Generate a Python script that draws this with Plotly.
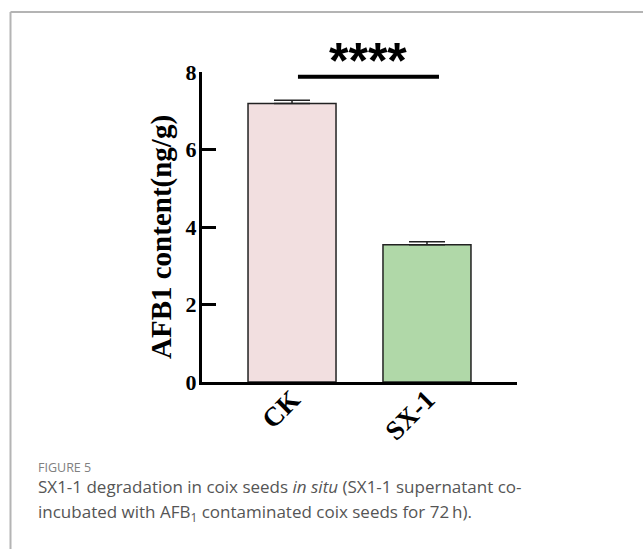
import plotly.graph_objects as go

categories = ["CK", "SX-1"]
values = [7.19, 3.54]
errors = [0.08, 0.08]
bar_colors = ["#f2dfe0", "#b0d8a8"]
y_ticks = [0, 2, 4, 6, 8]
sig_label = "****"
sig_level = 7.88
y_title = "AFB1 content(ng/g)"

W, H = 643, 549
L, R, T, B = 202, 126, 72, 167
PW, PH = W - L - R, H - T - B

def px(x):
    return (x - L) / PW

def py(y):
    return (H - B - y) / PH

fig = go.Figure()
fig.add_trace(go.Bar(
    x=categories, y=values, width=0.652,
    marker=dict(color=bar_colors, line=dict(color="#222222", width=1.5)),
    error_y=dict(type="data", symmetric=False, array=errors, arrayminus=[0, 0],
                 color="#222222", thickness=1.5, width=18),
    showlegend=False,
))

serif = "Liberation Serif, Times New Roman, serif"
fig.update_layout(
    width=W, height=H,
    margin=dict(l=L, r=R, t=T, b=B),
    paper_bgcolor="white", plot_bgcolor="white",
    xaxis=dict(type="category", range=[-0.667, 1.667], showline=True, linewidth=3,
               linecolor="black", ticks="", tickangle=-45, showgrid=False, zeroline=False,
               ticklabelstandoff=-12,
               tickfont=dict(family=serif, size=27, color="black", weight="bold")),
    yaxis=dict(range=[0, 8], tickvals=y_ticks, showline=True, linewidth=3, linecolor="black",
               ticks="inside", ticklen=14, tickwidth=3, tickcolor="black",
               showgrid=False, zeroline=False, ticklabelstandoff=-2,
               tickfont=dict(family=serif, size=22, color="black", weight="bold")),
    shapes=[
        dict(type="line", xref="x", yref="y", x0=0.044, x1=1.089, y0=sig_level, y1=sig_level,
             line=dict(color="black", width=4)),
        dict(type="line", xref="paper", yref="paper", x0=px(10.5), x1=px(643), y0=py(12), y1=py(12),
             line=dict(color="#b4b4b4", width=2)),
        dict(type="line", xref="paper", yref="paper", x0=px(10.5), x1=px(10.5), y0=py(12), y1=py(549),
             line=dict(color="#b4b4b4", width=2)),
    ],
    annotations=[
        dict(x=0.563, y=py(61), xref="x", yref="paper", text=sig_label, showarrow=False,
             font=dict(family="Liberation Sans, Arial", size=50, color="black", weight="bold"),
             xanchor="center", yanchor="middle"),
        dict(x=px(161), y=py(237), xref="paper", yref="paper", text=y_title, textangle=-90,
             showarrow=False, xanchor="center", yanchor="middle",
             font=dict(family=serif, size=29, color="black", weight="bold")),
        dict(x=px(36), y=py(467), xref="paper", yref="paper", text="FIGURE 5", showarrow=False,
             xanchor="left", yanchor="middle",
             font=dict(family="Open Sans", size=12.5, color="#808080")),
        dict(x=px(36), y=py(486), xref="paper", yref="paper",
             text="SX1-1 degradation in coix seeds <i>in situ</i> (SX1-1 supernatant co-",
             showarrow=False, xanchor="left", yanchor="middle", align="left",
             font=dict(family="Open Sans", size=17, color="#555555")),
        dict(x=px(36), y=py(512), xref="paper", yref="paper",
             text="incubated with AFB<sub>1</sub> contaminated coix seeds for 72\u2009h).",
             showarrow=False, xanchor="left", yanchor="middle", align="left",
             font=dict(family="Open Sans", size=17, color="#555555")),
    ],
)

fig.write_html("out.html")
